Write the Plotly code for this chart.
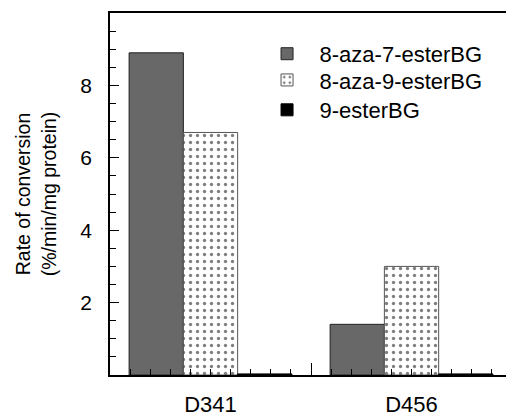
import plotly.graph_objects as go

categories = ["D341", "D456"]
series_names = ["8-aza-7-esterBG", "8-aza-9-esterBG", "9-esterBG"]
aza7_values = [8.9, 1.4]
aza9_values = [6.7, 3.0]
ester9_values = [0.03, 0.03]
y_tick_values = [2, 4, 6, 8]

x_pos = list(range(len(categories)))
FONT = "Liberation Sans, Arial, Helvetica, sans-serif"

fig = go.Figure()
fig.add_trace(go.Bar(
    x=x_pos, y=aza7_values, name=series_names[0], legend="legend",
    marker=dict(color="#686868", line=dict(color="#222", width=1)),
))
fig.add_trace(go.Bar(
    x=x_pos, y=aza9_values, name=series_names[1], legend="legend2",
    marker=dict(color="white", line=dict(color="#555", width=1),
                pattern=dict(shape=".", fgcolor="black", bgcolor="white",
                             size=7, solidity=0.18)),
))
fig.add_trace(go.Bar(
    x=x_pos, y=ester9_values, name=series_names[2], legend="legend3",
    marker=dict(color="black", line=dict(color="black", width=1)),
))
# helper traces to anchor the overlay axes
fig.add_trace(go.Scatter(x=x_pos, y=[0, 0], xaxis="x2", mode="markers",
                         marker=dict(opacity=0), showlegend=False, hoverinfo="skip"))
fig.add_trace(go.Scatter(x=x_pos, y=[0, 0], xaxis="x3", mode="markers",
                         marker=dict(opacity=0), showlegend=False, hoverinfo="skip"))

xr = [-0.5, 1.47]
leg_common = dict(x=0.365, xanchor="left", yanchor="middle",
                  font=dict(size=22, family=FONT), itemwidth=55,
                  bgcolor="rgba(0,0,0,0)")
fig.update_layout(
    width=506, height=419,
    margin=dict(l=110, r=0, t=13, b=44, autoexpand=False),
    paper_bgcolor="white", plot_bgcolor="white",
    barmode="group", bargap=0.19, bargroupgap=0,
    font=dict(family=FONT, color="black"),
    showlegend=True,
    legend=dict(y=0.887, **leg_common),
    legend2=dict(y=0.8145, **leg_common),
    legend3=dict(y=0.732, **leg_common),
    xaxis=dict(range=xr, showgrid=False, zeroline=False, automargin=False,
               showline=True, linecolor="black", linewidth=1.5, mirror=True,
               tickmode="linear", tick0=-0.5, dtick=0.1,
               ticks="inside", ticklen=6, tickcolor="black", tickwidth=1,
               showticklabels=False),
    xaxis2=dict(range=xr, overlaying="x", matches="x", showgrid=False, zeroline=False,
                automargin=False,
                showline=False, tickmode="array", tickvals=[0.5],
                ticks="inside", ticklen=12, tickcolor="black", tickwidth=1.2,
                showticklabels=False),
    xaxis3=dict(range=xr, overlaying="x", matches="x", showgrid=False, zeroline=False,
                automargin=False,
                showline=False, tickmode="array", tickvals=x_pos, ticktext=categories,
                ticks="", tickfont=dict(size=22, family=FONT),
                ticklabelstandoff=14),
    yaxis=dict(range=[0, 10], showgrid=False, zeroline=False, automargin=False,
               showline=True, linecolor="black", linewidth=1.5,
               tickmode="array", tickvals=y_tick_values,
               ticks="inside", ticklen=9, tickcolor="black", tickwidth=1,
               minor=dict(tickmode="linear", tick0=0, dtick=0.5, ticks="inside",
                          ticklen=6, tickcolor="black", tickwidth=1),
               tickfont=dict(size=21, family=FONT), ticklabelstandoff=12,
               title=dict(text="Rate of conversion<br>(%/min/mg protein)",
                          font=dict(size=19.5, family=FONT), standoff=19)),
)

fig.write_html("out.html", config={"displayModeBar": False},
               post_script="document.body.style.margin='0';")
